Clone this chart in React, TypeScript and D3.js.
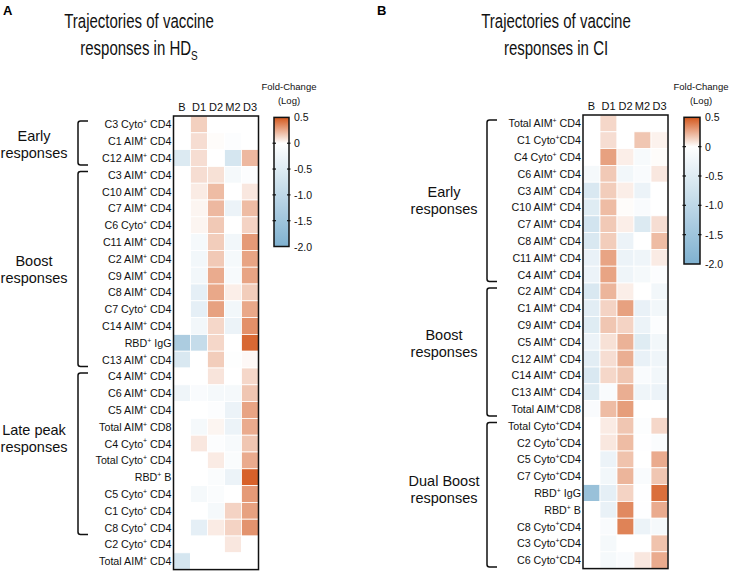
import React from "react";
import * as d3 from "d3";

// ---------- DATA ----------
const timepoints = ["B", "D1", "D2", "M2", "D3"];

const hdsRows = [
  "C3 Cyto^+ CD4", "C1 AIM^+ CD4", "C12 AIM^+ CD4",
  "C3 AIM^+ CD4", "C10 AIM^+ CD4", "C7 AIM^+ CD4", "C6 Cyto^+ CD4", "C11 AIM^+ CD4",
  "C2 AIM^+ CD4", "C9 AIM^+ CD4", "C8 AIM^+ CD4", "C7 Cyto^+ CD4", "C14 AIM^+ CD4",
  "RBD^+ IgG", "C13 AIM^+ CD4",
  "C4 AIM^+ CD4", "C6 AIM^+ CD4", "C5 AIM^+ CD4", "Total AIM^+ CD8", "C4 Cyto^+ CD4",
  "Total Cyto^+ CD4", "RBD^+ B", "C5 Cyto^+ CD4", "C1 Cyto^+ CD4", "C8 Cyto^+ CD4",
  "C2 Cyto^+ CD4", "Total AIM^+ CD4",
];

const hdsValues = [
  [0, 0.14, 0, 0, 0],
  [0, 0.1, 0.01, -0.05, 0],
  [-0.55, 0.1, 0, -0.65, 0.21],
  [0, 0.1, 0.09, -0.15, -0.04],
  [0, 0.06, 0.2, 0, 0.07],
  [0, 0.03, 0.21, -0.3, 0.2],
  [0, 0.03, 0.16, 0, 0.13],
  [0, -0.15, 0.15, -0.2, 0.3],
  [0, -0.2, 0.16, -0.15, 0.27],
  [0, -0.2, 0.25, -0.12, 0.27],
  [0, -0.4, 0.26, 0.05, 0.15],
  [0, -0.4, 0.28, -0.2, 0.26],
  [0, -0.2, 0.12, -0.3, 0.33],
  [-1.3, -0.9, 0.12, 0, 0.45],
  [-0.6, 0, 0.15, -0.03, 0.02],
  [0, 0, 0.08, 0, 0.12],
  [-0.25, -0.1, -0.15, -0.15, 0.17],
  [0, 0, -0.05, -0.3, 0.27],
  [0, -0.15, 0.03, -0.3, 0.25],
  [0, 0.07, -0.05, -0.12, 0.17],
  [0, 0, 0.06, -0.08, 0.25],
  [0, 0, -0.08, -0.3, 0.47],
  [0, -0.15, -0.08, 0, 0.3],
  [0, 0, -0.15, 0.13, 0.28],
  [0, -0.4, 0.06, 0.13, 0.32],
  [0, 0, 0, 0.07, 0],
  [-0.65, 0, 0, 0, 0],
];

const hdsGroupNames = [["Early", "responses"], ["Boost", "responses"], ["Late peak", "responses"]];
const hdsGroupStarts = [0, 3, 15];
const hdsGroupEnds = [2, 14, 24];

const ciRows = [
  "Total AIM^+ CD4", "C1 Cyto^+CD4", "C4 Cyto^+ CD4", "C6 AIM^+ CD4", "C3 AIM^+ CD4",
  "C10 AIM^+ CD4", "C7 AIM^+ CD4", "C8 AIM^+ CD4", "C11 AIM^+ CD4", "C4 AIM^+ CD4",
  "C2 AIM^+ CD4", "C1 AIM^+ CD4", "C9 AIM^+ CD4", "C5 AIM^+ CD4", "C12 AIM^+ CD4",
  "C14 AIM^+ CD4", "C13 AIM^+ CD4", "Total AIM^+CD8",
  "Total Cyto^+CD4", "C2 Cyto^+CD4", "C5 Cyto^+CD4", "C7 Cyto^+CD4", "RBD^+ IgG",
  "RBD^+ B", "C8 Cyto^+CD4", "C3 Cyto^+CD4", "C6 Cyto^+CD4",
];

const ciValues = [
  [0, 0.12, 0, 0, 0],
  [0, 0.1, 0, 0.17, 0.04],
  [0, 0.28, 0.05, -0.12, 0.01],
  [-0.15, 0.16, -0.2, -0.1, 0.07],
  [-0.6, 0.15, 0.05, -0.3, 0],
  [-0.5, 0.2, 0.01, -0.1, 0],
  [-0.7, 0.16, 0.05, -0.55, 0.1],
  [-0.6, 0.15, -0.3, 0, 0.2],
  [-0.35, 0.27, -0.3, -0.25, 0.06],
  [-0.3, 0.27, -0.25, -0.15, -0.05],
  [-0.6, 0.22, 0.05, 0, -0.2],
  [-0.45, 0.13, 0.28, -0.35, -0.2],
  [-0.5, 0.17, 0.13, -0.3, -0.05],
  [-0.3, 0.09, 0.23, -0.5, -0.2],
  [-0.45, 0.1, 0.24, -0.35, -0.25],
  [-0.6, 0.12, 0.17, -0.1, -0.2],
  [-0.5, -0.1, 0.24, -0.25, -0.3],
  [-0.1, 0.2, 0.29, 0, 0],
  [0, 0.06, 0.17, -0.05, 0.12],
  [0, 0.07, 0.2, -0.02, -0.08],
  [0, -0.3, 0.18, 0, 0.25],
  [0, -0.2, 0.22, -0.1, 0.17],
  [-1.6, -0.4, 0.13, -0.02, 0.43],
  [0, -0.35, 0.35, -0.02, 0.25],
  [0, -0.1, 0.37, -0.3, -0.15],
  [0, -0.15, 0, 0, 0.18],
  [0, -0.15, -0.1, 0.07, 0.25],
];

const ciGroupNames = [["Early", "responses"], ["Boost", "responses"], ["Dual Boost", "responses"]];
const ciGroupStarts = [0, 10, 18];
const ciGroupEnds = [9, 17, 26];

const legendTicks = [0.5, 0, -0.5, -1.0, -1.5, -2.0];
const legendTickLabels = ["0.5", "0", "-0.5", "-1.0", "-1.5", "-2.0"];

// ---------- STYLE ----------
const FONT = "'Liberation Sans', Arial, Helvetica, sans-serif";

const color = d3
  .scaleLinear<string>()
  .domain([-2, 0, 0.5])
  .range(["#7fb1d0", "#ffffff", "#d4571c"])
  .interpolate(d3.interpolateRgb)
  .clamp(true);

function Label({ text, x, y, size }: any) {
  const parts: string[] = text.split("^+");
  const sup = size * 0.4;
  const children: React.ReactNode[] = [];
  parts.forEach((p, i) => {
    children.push(
      <tspan key={"t" + i} dy={i > 0 ? sup : undefined}>
        {p}
      </tspan>
    );
    if (i < parts.length - 1) {
      children.push(
        <tspan key={"s" + i} fontSize={size * 0.65} dy={-sup}>
          +
        </tspan>
      );
    }
  });
  return (
    <text x={x} y={y} fontSize={size} textAnchor="end" fontFamily={FONT} fill="#111">
      {children}
    </text>
  );
}

type PanelProps = {
  id: string;
  letter: string;
  letterX: number;
  titleX: number;
  titleLine2: React.ReactNode;
  rows: string[];
  values: number[][];
  groupNames: string[][];
  groupStarts: number[];
  groupEnds: number[];
  groupOffsets: number[];
  boxX: number;
  boxTop: number;
  rowH: number;
  colW: number;
  bracketX: number;
  groupLabelX: number;
  legendX: number;
  legendW: number;
  legendTop: number;
  legendBottom: number;
  legendLabelX: number;
  colHeaderY: number;
};

function Panel(p: PanelProps) {
  const x = d3
    .scaleBand<string>()
    .domain(timepoints)
    .range([p.boxX, p.boxX + p.colW * timepoints.length]);
  const y = d3
    .scaleBand<number>()
    .domain(d3.range(p.rows.length))
    .range([p.boxTop, p.boxTop + p.rowH * p.rows.length]);
  const ly = d3.scaleLinear().domain([0.5, -2]).range([p.legendTop, p.legendBottom]);
  const gradId = "grad-" + p.id;
  const stops = d3.range(0, 1.0001, 0.05).map((t) => {
    const v = 0.5 - t * 2.5;
    return { t, c: color(v) };
  });
  const boxRight = p.boxX + p.colW * timepoints.length;
  const boxBottom = p.boxTop + p.rowH * p.rows.length;
  return (
    <g>
      <text x={p.letterX} y={15} fontSize={13} fontWeight="bold" fontFamily={FONT}>
        {p.letter}
      </text>
      <g transform={`translate(${p.titleX},0) scale(0.77,1)`}>
        <text x={0} y={28} fontSize={19.5} textAnchor="middle" fontFamily={FONT} fill="#111">
          Trajectories of vaccine
        </text>
        <text x={0} y={55} fontSize={19.5} textAnchor="middle" fontFamily={FONT} fill="#111">
          {p.titleLine2}
        </text>
      </g>

      {/* column headers */}
      {timepoints.map((t) => (
        <text
          key={t}
          x={(x(t) as number) + x.bandwidth() / 2}
          y={p.colHeaderY}
          fontSize={11}
          textAnchor="middle"
          fontFamily={FONT}
          fill="#111"
        >
          {t}
        </text>
      ))}

      {/* cells */}
      {p.values.map((row, i) =>
        row.map((v, j) => (
          <rect
            key={i + "-" + j}
            x={x(timepoints[j]) as number}
            y={y(i) as number}
            width={x.bandwidth()}
            height={y.bandwidth()}
            fill={color(v)}
            stroke="#ffffff"
            strokeWidth={0.8}
          />
        ))
      )}
      <rect
        x={p.boxX}
        y={p.boxTop}
        width={boxRight - p.boxX}
        height={boxBottom - p.boxTop}
        fill="none"
        stroke="#111"
        strokeWidth={1.5}
      />

      {/* row labels */}
      {p.rows.map((r, i) => (
        <Label key={i} text={r} x={p.boxX - 2} y={(y(i) as number) + y.bandwidth() / 2 + 4} size={10.7} />
      ))}

      {/* brackets */}
      {p.groupNames.map((g, k) => {
        const top = (y(p.groupStarts[k]) as number) + 5;
        const bot = (y(p.groupEnds[k]) as number) + y.bandwidth() - 1.5;
        const bx = p.bracketX;
        const hook = 10;
        const r = 2.5;
        const d = `M${bx + hook},${top} L${bx + r},${top} Q${bx},${top} ${bx},${top + r} L${bx},${bot - r} Q${bx},${bot} ${bx + r},${bot} L${bx + hook},${bot}`;
        const mid = (top + bot) / 2 + p.groupOffsets[k];
        const lh = 17;
        return (
          <g key={k}>
            <path d={d} fill="none" stroke="#111" strokeWidth={1.5} />
            {g.map((line, li) => (
              <text
                key={li}
                x={p.groupLabelX}
                y={mid - ((g.length - 1) * lh) / 2 + li * lh + 5}
                fontSize={14.5}
                textAnchor="middle"
                fontFamily={FONT}
                fill="#111"
              >
                {line}
              </text>
            ))}
          </g>
        );
      })}

      {/* legend */}
      <defs>
        <linearGradient id={gradId} x1="0" x2="0" y1="0" y2="1">
          {stops.map((s, i) => (
            <stop key={i} offset={s.t} stopColor={s.c} />
          ))}
        </linearGradient>
      </defs>
      <text x={p.legendLabelX} y={90} fontSize={9.5} textAnchor="middle" fontFamily={FONT} fill="#111">
        Fold-Change
      </text>
      <text x={p.legendLabelX} y={104} fontSize={9.5} textAnchor="middle" fontFamily={FONT} fill="#111">
        (Log)
      </text>
      <rect
        x={p.legendX}
        y={p.legendTop}
        width={p.legendW}
        height={p.legendBottom - p.legendTop}
        fill={`url(#${gradId})`}
        stroke="#111"
        strokeWidth={1.5}
      />
      {legendTicks.map((t, i) => (
        <g key={i}>
          {i > 0 && i < legendTicks.length - 1 && (
            <>
              <line x1={p.legendX - 1.5} x2={p.legendX + 2} y1={ly(t)} y2={ly(t)} stroke="#111" strokeWidth={1.2} />
              <line
                x1={p.legendX + p.legendW - 2}
                x2={p.legendX + p.legendW + 1.5}
                y1={ly(t)}
                y2={ly(t)}
                stroke="#111"
                strokeWidth={1.2}
              />
            </>
          )}
          <text x={p.legendX + p.legendW + 5} y={ly(t) + 4} fontSize={10.5} fontFamily={FONT} fill="#111">
            {legendTickLabels[i]}
          </text>
        </g>
      ))}
    </g>
  );
}

export default function App() {
  return (
    <svg width={729} height={571} style={{ position: "absolute", left: 0, top: 0, background: "#fff" }}>
      <rect width={729} height={571} fill="#fff" />
      <Panel
        id="a"
        letter="A"
        letterX={3}
        titleX={139}
        titleLine2={
          <>
            <tspan>responses in HD</tspan>
            <tspan fontSize={13} dy={5}>S</tspan>
          </>
        }
        rows={hdsRows}
        values={hdsValues}
        groupNames={hdsGroupNames}
        groupStarts={hdsGroupStarts}
        groupEnds={hdsGroupEnds}
        groupOffsets={[2, 1, -15]}
        boxX={173.5}
        boxTop={116}
        rowH={16.8}
        colW={17}
        bracketX={78}
        groupLabelX={34}
        legendX={274}
        legendW={15}
        legendTop={117.4}
        legendBottom={246.5}
        legendLabelX={289}
        colHeaderY={111}
      />
      <Panel
        id="b"
        letter="B"
        letterX={377}
        titleX={556}
        titleLine2={<tspan>responses in CI</tspan>}
        rows={ciRows}
        values={ciValues}
        groupNames={ciGroupNames}
        groupStarts={ciGroupStarts}
        groupEnds={ciGroupEnds}
        groupOffsets={[0, -8, -5.5]}
        boxX={583}
        boxTop={115}
        rowH={16.8}
        colW={17}
        bracketX={487}
        groupLabelX={444}
        legendX={684}
        legendW={16}
        legendTop={117.3}
        legendBottom={264}
        legendLabelX={701}
        colHeaderY={110}
      />
    </svg>
  );
}
